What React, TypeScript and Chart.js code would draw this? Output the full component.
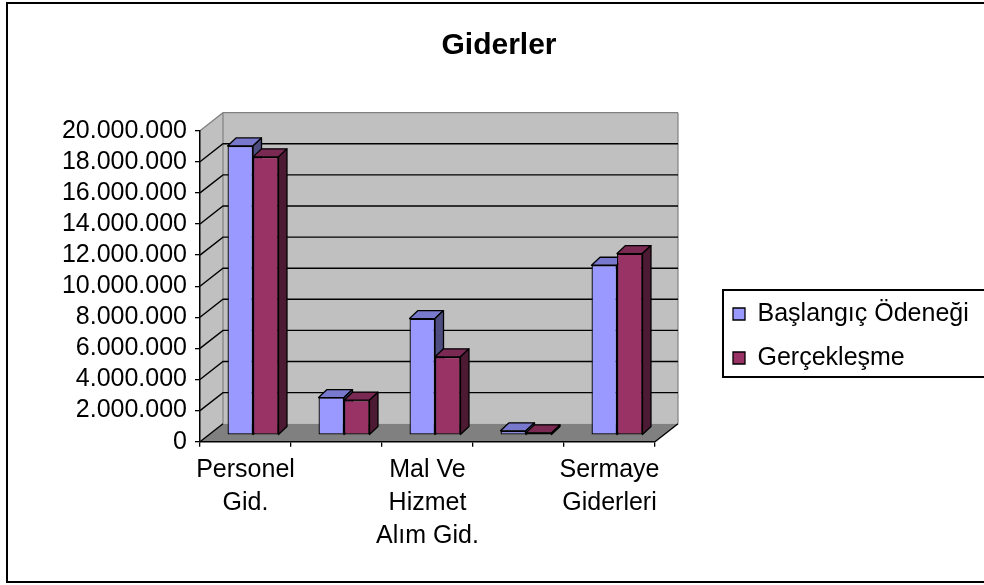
import React, { useEffect, useRef } from 'react';
import { Chart, registerables } from 'chart.js';

Chart.register(...registerables);

// ---------- data ----------
const categories: string[][] = [
  ['Personel', 'Gid.'],
  ['SGK Devlet', 'Primi Gid.'],
  ['Mal Ve', 'Hizmet', 'Alım Gid.'],
  ['Cari', 'Transferler'],
  ['Sermaye', 'Giderleri'],
];
const visibleCategoryLabels = [true, false, true, false, true];
const seriesNames = ['Başlangıç Ödeneği', 'Gerçekleşme'];
const baslangicOdenegi = [18600000, 2420000, 7500000, 280000, 10930000];
const gerceklesme = [17900000, 2250000, 5040000, 150000, 11680000];
const yMin = 0;
const yMax = 20000000;
const yStep = 2000000;
const chartTitle = 'Giderler';

// ---------- style / layout ----------
const FONT = '"Liberation Sans", Arial, Helvetica, sans-serif';
const W = 984;
const H = 585;
const LEGEND_FONT_SIZE = 25;
const LEGEND_BOX_X = 733;
const PLOT_LEFT = 200;
const PLOT_RIGHT = 655;
const PLOT_BOTTOM = 441.7;
const FLOOR_DX = 23;
const FLOOR_DY = -18;
const BAR_DX = 7.5;
const BAR_DY = -6.5;
const DEPTH_DX = 8.5;
const DEPTH_DY = -8;
const WALL = '#c0c0c0';
const FLOOR = '#808080';
const WALL_EDGE = '#808080';
const frontColors = ['#9999FF', '#993366'];
const topColors = ['#7878CC', '#7A2952'];
const sideColors = ['#4D4D80', '#4D1A33'];

function fmt(v: number): string {
  return String(Math.round(v)).replace(/\B(?=(\d{3})+(?!\d))/g, '.');
}

function measureLongestLegend(): number {
  const c = document.createElement('canvas');
  const ctx = c.getContext('2d');
  if (!ctx) return 211;
  ctx.font = `${LEGEND_FONT_SIZE}px ${FONT}`;
  return Math.max(...seriesNames.map((s) => ctx.measureText(s).width));
}

const depthPlugin = {
  id: 'depth3d',
  beforeDraw(chart: any) {
    const { ctx, chartArea } = chart;
    const { left: L, right: R, top: T, bottom: B } = chartArea;
    const ys = chart.scales.y;
    const dx = FLOOR_DX;
    const dy = FLOOR_DY;
    ctx.save();
    ctx.fillStyle = WALL;
    ctx.beginPath();
    ctx.moveTo(L, T);
    ctx.lineTo(L + dx, T + dy);
    ctx.lineTo(R + dx, T + dy);
    ctx.lineTo(R + dx, B + dy);
    ctx.lineTo(L + dx, B + dy);
    ctx.lineTo(L, B);
    ctx.closePath();
    ctx.fill();
    ctx.fillStyle = FLOOR;
    ctx.beginPath();
    ctx.moveTo(L, B);
    ctx.lineTo(R, B);
    ctx.lineTo(R + dx, B + dy);
    ctx.lineTo(L + dx, B + dy);
    ctx.closePath();
    ctx.fill();
    ctx.strokeStyle = WALL_EDGE;
    ctx.lineWidth = 1.2;
    ctx.beginPath();
    ctx.moveTo(L + dx, T + dy);
    ctx.lineTo(L + dx, B + dy);
    ctx.moveTo(R + dx, T + dy);
    ctx.lineTo(R + dx, B + dy);
    ctx.moveTo(L, T);
    ctx.lineTo(L + dx, T + dy);
    ctx.lineTo(R + dx, T + dy);
    ctx.stroke();
    ctx.strokeStyle = '#000';
    ctx.lineWidth = 1.4;
    ys.ticks.forEach((t: any) => {
      if (t.value <= ys.min || t.value >= ys.max) return;
      const py = ys.getPixelForValue(t.value);
      ctx.beginPath();
      ctx.moveTo(L, py);
      ctx.lineTo(L + dx, py + dy);
      ctx.lineTo(R + dx, py + dy);
      ctx.stroke();
    });
    ctx.beginPath();
    ctx.moveTo(L, B);
    ctx.lineTo(L + dx, B + dy);
    ctx.moveTo(R, B);
    ctx.lineTo(R + dx, B + dy);
    ctx.stroke();
    ctx.restore();
  },
  beforeDatasetsDraw(chart: any) {
    const ctx = chart.ctx;
    ctx.save();
    ctx.translate(BAR_DX, BAR_DY);
    const n = chart.data.labels.length;
    const nd = chart.data.datasets.length;
    ctx.strokeStyle = '#000';
    ctx.lineWidth = 1.3;
    ctx.lineJoin = 'round';
    for (let i = 0; i < n; i++) {
      for (let d = 0; d < nd; d++) {
        const meta = chart.getDatasetMeta(d);
        if (meta.hidden) continue;
        const el = meta.data[i];
        if (!el) continue;
        const p = el.getProps(['x', 'y', 'base', 'width'], true);
        const l = p.x - p.width / 2;
        const r = p.x + p.width / 2;
        const top = Math.min(p.y, p.base);
        const bot = Math.max(p.y, p.base);
        ctx.fillStyle = topColors[d];
        ctx.beginPath();
        ctx.moveTo(l, top);
        ctx.lineTo(r, top);
        ctx.lineTo(r + DEPTH_DX, top + DEPTH_DY);
        ctx.lineTo(l + DEPTH_DX, top + DEPTH_DY);
        ctx.closePath();
        ctx.fill();
        ctx.stroke();
        ctx.fillStyle = sideColors[d];
        ctx.beginPath();
        ctx.moveTo(r, top);
        ctx.lineTo(r + DEPTH_DX, top + DEPTH_DY);
        ctx.lineTo(r + DEPTH_DX, bot + DEPTH_DY);
        ctx.lineTo(r, bot);
        ctx.closePath();
        ctx.fill();
        ctx.stroke();
      }
    }
  },
  afterDatasetsDraw(chart: any) {
    chart.ctx.restore();
  },
  afterDraw(chart: any) {
    const ctx = chart.ctx;
    ctx.save();
    ctx.strokeStyle = '#000';
    ctx.lineWidth = 2;
    const lg = chart.legend;
    if (lg && lg.legendHitBoxes && lg.legendHitBoxes.length) {
      const hb = lg.legendHitBoxes;
      const last = hb[hb.length - 1];
      const top = hb[0].top - 11.5;
      const bottom = last.top + last.height + 6.5;
      const left = hb[0].left - 10;
      ctx.strokeRect(left, top, W + 20 - left, bottom - top);
    }
    ctx.strokeRect(7, 3, W + 10, 579);
    ctx.restore();
  },
};

export default function App() {
  const ref = useRef<HTMLCanvasElement>(null);
  useEffect(() => {
    Chart.defaults.color = '#000';
    Chart.defaults.font.family = FONT;
    const textW = measureLongestLegend();
    const LEG_PAD = 19;
    const BOX_W = 12;
    // legend box x = W - padR - legendWidth + LEG_PAD ; legendWidth = LEG_PAD + BOX_W + size/2 + textW + 10
    const PAD_R = W - (BOX_W + LEGEND_FONT_SIZE / 2 + textW + 10) - LEGEND_BOX_X;
    const PAD_L = PAD_R + 14;
    const chart = new Chart(ref.current as HTMLCanvasElement, {
      type: 'bar',
      data: {
        labels: categories,
        datasets: [
          {
            label: seriesNames[0],
            data: baslangicOdenegi,
            backgroundColor: frontColors[0],
            borderColor: '#000',
            borderWidth: 1.3,
            borderSkipped: false,
            categoryPercentage: 0.56,
            barPercentage: 1,
            clip: false,
          } as any,
          {
            label: seriesNames[1],
            data: gerceklesme,
            backgroundColor: frontColors[1],
            borderColor: '#000',
            borderWidth: 1.3,
            borderSkipped: false,
            categoryPercentage: 0.56,
            barPercentage: 1,
            clip: false,
          } as any,
        ],
      },
      options: {
        responsive: false,
        animation: false,
        devicePixelRatio: 1,
        layout: { padding: { left: PAD_L, right: PAD_R, top: 0, bottom: 0 } },
        events: [],
        scales: {
          x: {
            type: 'category',
            offset: true,
            grid: { offset: true, drawOnChartArea: false, drawTicks: true, tickLength: 5, color: '#000', lineWidth: 1.3 },
            border: { display: true, color: '#000', width: 1.5 },
            ticks: {
              autoSkip: false,
              maxRotation: 0,
              minRotation: 0,
              padding: 7,
              color: '#000',
              font: { family: FONT, size: 25, lineHeight: 1.32 },
              callback: (_v: any, i: number) => (visibleCategoryLabels[i] ? categories[i] : ''),
            },
            afterFit: (s: any) => {
              s.height = H - PLOT_BOTTOM;
            },
          },
          y: {
            type: 'linear',
            position: 'left',
            min: yMin,
            max: yMax,
            grid: { drawOnChartArea: false, drawTicks: true, tickLength: 5, color: '#000', lineWidth: 1.3 },
            border: { display: true, color: '#000', width: 1.5 },
            ticks: {
              stepSize: yStep,
              autoSkip: false,
              padding: 8,
              color: '#000',
              font: { family: FONT, size: 25 },
              callback: (v: any) => fmt(Number(v)),
            },
            afterFit: (s: any) => {
              s.width = PLOT_LEFT - PAD_L;
            },
          },
          y2: {
            type: 'linear',
            position: 'right',
            display: true,
            grid: { display: false },
            border: { display: false },
            ticks: { display: false },
            afterFit: (s: any) => {
              const lw = s.chart.legend ? s.chart.legend.width : 0;
              s.width = Math.max(0, W - PAD_R - PLOT_RIGHT - lw);
            },
          },
        },
        plugins: {
          title: {
            display: true,
            text: chartTitle,
            color: '#000',
            font: { family: FONT, size: 30, weight: 'bold' },
            padding: { top: 28, bottom: 66.7 },
          },
          legend: {
            position: 'right',
            align: 'center',
            maxWidth: 600,
            title: { display: true, text: ' ', font: { size: 10 }, padding: { top: 75, bottom: 0 } },
            labels: {
              boxWidth: BOX_W,
              boxHeight: BOX_W,
              padding: LEG_PAD,
              color: '#000',
              font: { family: FONT, size: LEGEND_FONT_SIZE },
            },
          },
          tooltip: { enabled: false },
        },
      } as any,
      plugins: [depthPlugin],
    });
    return () => chart.destroy();
  }, []);
  return (
    <div style={{ position: 'absolute', left: 0, top: 0, width: W, height: H, background: '#fff' }}>
      <canvas ref={ref} width={W} height={H} style={{ display: 'block', width: W, height: H }} />
    </div>
  );
}
